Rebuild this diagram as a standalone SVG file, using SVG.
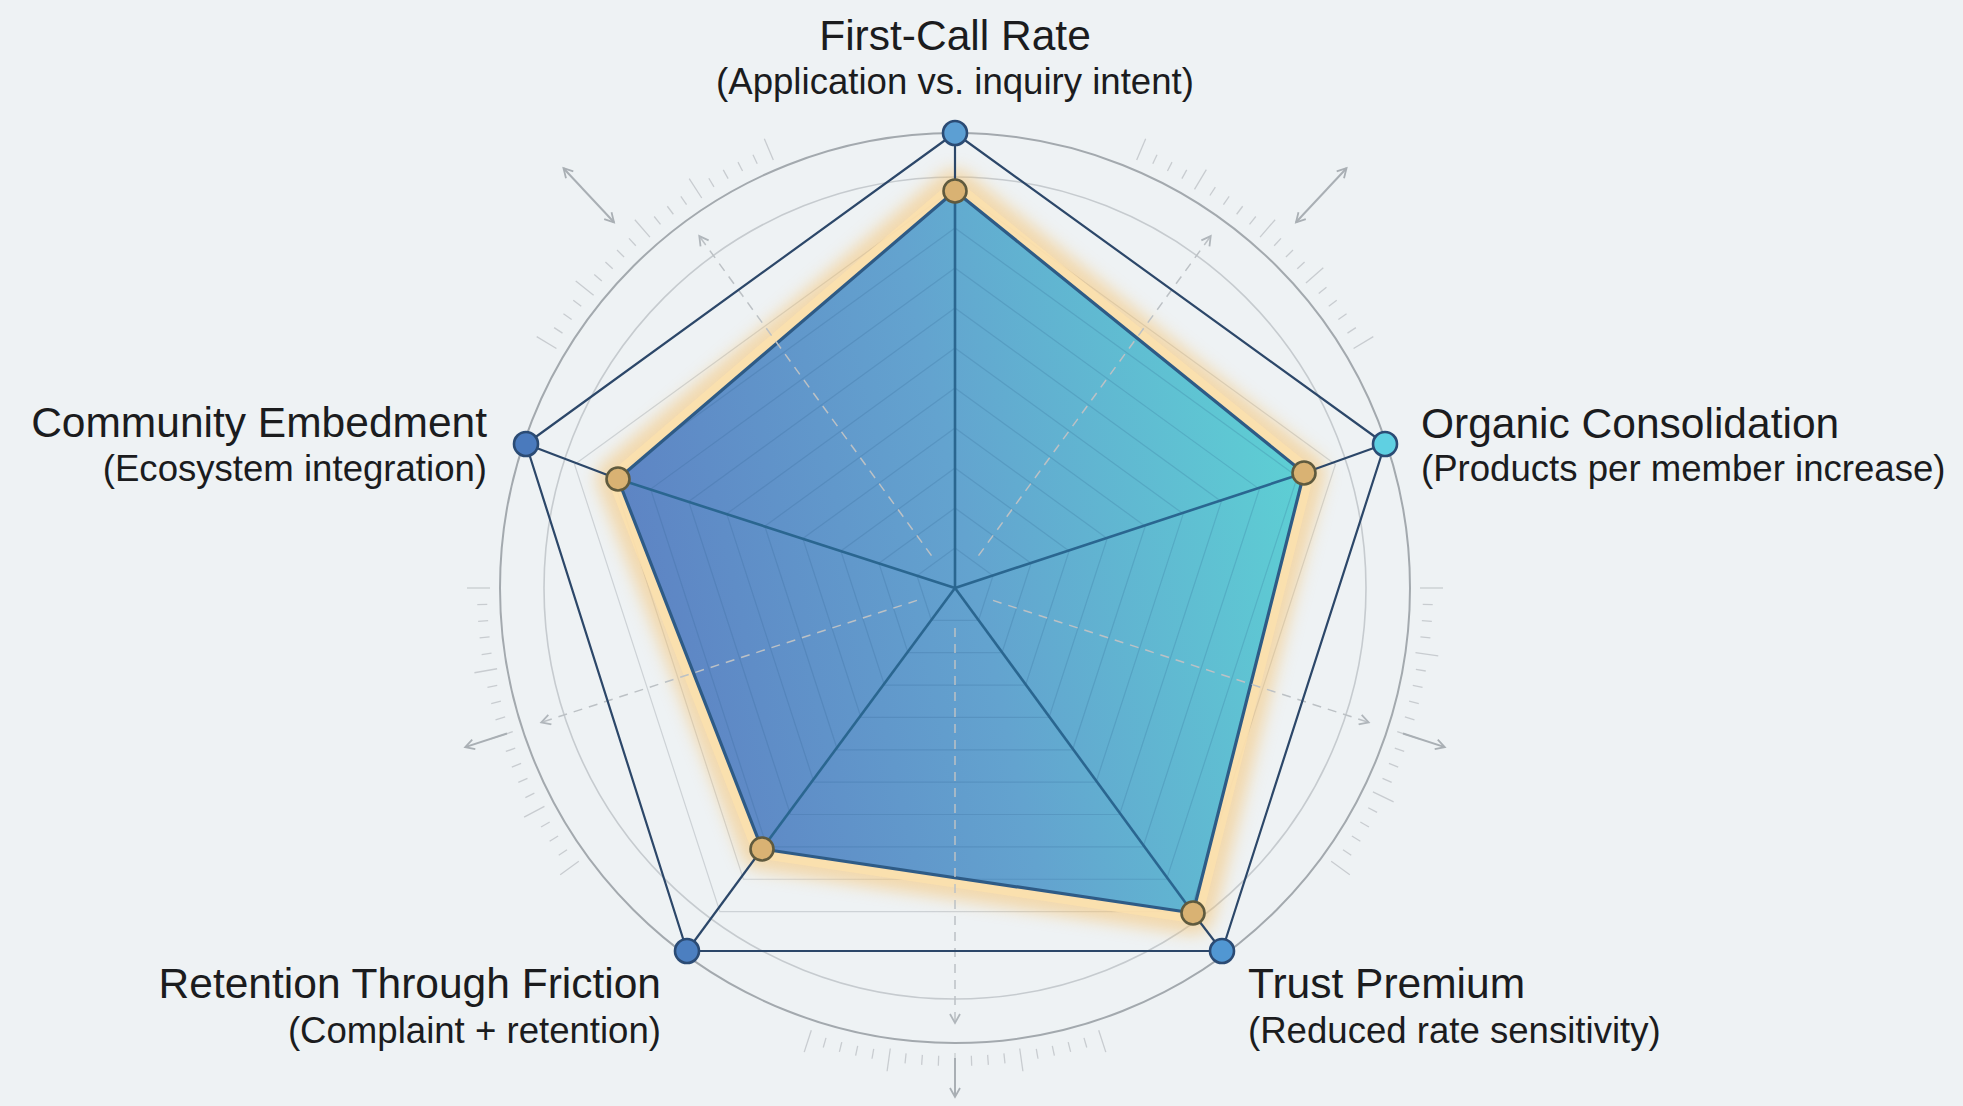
<svg xmlns="http://www.w3.org/2000/svg" xmlns:xlink="http://www.w3.org/1999/xlink" width="1963" height="1106" viewBox="0 0 1963 1106">
<style>
.bg{fill:#eef2f4}
.circ-o{fill:none;stroke:#a3a9ae;stroke-width:2}
.circ-i{fill:none;stroke:#c6cbcf;stroke-width:1.6}
.ring{fill:none;stroke:#cdd2d6;stroke-width:1.2}
.ring-in{fill:none;stroke:#2d5f8c;stroke-opacity:0.2;stroke-width:1.2}
.tick{stroke:#c8ccd0;stroke-width:1.3}
.dash{stroke:#bcc1c5;stroke-width:1.5;stroke-dasharray:9 7;fill:none}
.sarrow{stroke:#a9afb4;stroke-width:2;fill:none}
.edge{stroke:#2c4769;stroke-width:2.2;fill:none}
.spoke{stroke:#2a6690;stroke-width:2.6}
.outer{stroke:#2b4b74;stroke-width:2.6}
.data{fill:#d9b273;stroke:#5f5a3e;stroke-width:2.6}
.t1{font-family:"Liberation Sans",Arial,sans-serif;font-size:42.5px;fill:#1b1c1e}
.t2{font-family:"Liberation Sans",Arial,sans-serif;font-size:36.6px;fill:#1b1c1e}
</style>
<defs>
<linearGradient id="fillg" gradientUnits="userSpaceOnUse" x1="618" y1="600" x2="1304" y2="450">
<stop offset="0" stop-color="#5d82c3"/>
<stop offset="0.5" stop-color="#63a3cf"/>
<stop offset="1" stop-color="#5dd0d4"/>
</linearGradient>
<filter id="glow" x="-20%" y="-20%" width="140%" height="140%">
<feGaussianBlur stdDeviation="8"/>
</filter>
<clipPath id="dataclip">
<polygon points="955,191 1304,473 1193,913 762,849 618,479"/>
</clipPath>
<marker id="chev" viewBox="0 0 12 12" refX="10" refY="6" markerWidth="12" markerHeight="12" markerUnits="userSpaceOnUse" orient="auto-start-reverse">
<path d="M1,1 L10,6 L1,11" fill="none" stroke="#a9afb4" stroke-width="1.8"/>
</marker>
<marker id="chevd" viewBox="0 0 12 12" refX="10" refY="6" markerWidth="12" markerHeight="12" markerUnits="userSpaceOnUse" orient="auto">
<path d="M1,1 L10,6 L1,11" fill="none" stroke="#b0b6bb" stroke-width="1.8"/>
</marker>
<line id="tk" x1="468" y1="0" x2="478" y2="0"/>
<line id="tkL" x1="465" y1="0" x2="488" y2="0"/>
<g id="rings">
<polygon points="0,-40 38.04,-12.36 23.51,32.36 -23.51,32.36 -38.04,-12.36"/>
<polygon points="0,-80 76.09,-24.72 47.02,64.72 -47.02,64.72 -76.09,-24.72"/>
<polygon points="0,-120 114.13,-37.08 70.54,97.08 -70.54,97.08 -114.13,-37.08"/>
<polygon points="0,-160 152.18,-49.44 94.05,129.44 -94.05,129.44 -152.18,-49.44"/>
<polygon points="0,-200 190.22,-61.8 117.56,161.8 -117.56,161.8 -190.22,-61.8"/>
<polygon points="0,-240 228.26,-74.16 141.07,194.16 -141.07,194.16 -228.26,-74.16"/>
<polygon points="0,-280 266.31,-86.52 164.58,226.52 -164.58,226.52 -266.31,-86.52"/>
<polygon points="0,-320 304.35,-98.88 188.1,258.88 -188.1,258.88 -304.35,-98.88"/>
<polygon points="0,-360 342.4,-111.24 211.61,291.24 -211.61,291.24 -342.4,-111.24"/>
<polygon points="0,-400 380.44,-123.6 235.12,323.6 -235.12,323.6 -380.44,-123.6"/>
</g>
</defs>

<rect class="bg" x="0" y="0" width="1963" height="1106"/>

<g id="grid">
<circle class="circ-o" cx="955" cy="588" r="455"/>
<circle class="circ-i" cx="955" cy="588" r="411"/>
<use href="#rings" class="ring" transform="translate(955 588)"/>
</g>

<g id="ticks" class="tick" transform="translate(955 588)">
<use href="#tkL" transform="rotate(72)"/><use href="#tk" transform="rotate(74)"/><use href="#tk" transform="rotate(76)"/><use href="#tk" transform="rotate(78)"/><use href="#tk" transform="rotate(80)"/>
<use href="#tkL" transform="rotate(82)"/><use href="#tk" transform="rotate(84)"/><use href="#tk" transform="rotate(86)"/><use href="#tk" transform="rotate(88)"/><use href="#tkL" transform="rotate(90)"/>
<use href="#tk" transform="rotate(92)"/><use href="#tk" transform="rotate(94)"/><use href="#tk" transform="rotate(96)"/><use href="#tkL" transform="rotate(98)"/><use href="#tk" transform="rotate(100)"/>
<use href="#tk" transform="rotate(102)"/><use href="#tk" transform="rotate(104)"/><use href="#tk" transform="rotate(106)"/><use href="#tkL" transform="rotate(108)"/>
<use href="#tkL" transform="rotate(144)"/><use href="#tk" transform="rotate(146)"/><use href="#tk" transform="rotate(148)"/><use href="#tk" transform="rotate(150)"/><use href="#tkL" transform="rotate(152)"/>
<use href="#tk" transform="rotate(154)"/><use href="#tk" transform="rotate(156)"/><use href="#tk" transform="rotate(158)"/><use href="#tk" transform="rotate(160)"/><use href="#tkL" transform="rotate(162)"/>
<use href="#tk" transform="rotate(164)"/><use href="#tk" transform="rotate(166)"/><use href="#tk" transform="rotate(168)"/><use href="#tkL" transform="rotate(170)"/><use href="#tk" transform="rotate(172)"/>
<use href="#tk" transform="rotate(174)"/><use href="#tk" transform="rotate(176)"/><use href="#tk" transform="rotate(178)"/><use href="#tkL" transform="rotate(180)"/>
<use href="#tkL" transform="rotate(0)"/><use href="#tk" transform="rotate(2)"/><use href="#tk" transform="rotate(4)"/><use href="#tk" transform="rotate(6)"/><use href="#tkL" transform="rotate(8)"/>
<use href="#tk" transform="rotate(10)"/><use href="#tk" transform="rotate(12)"/><use href="#tk" transform="rotate(14)"/><use href="#tk" transform="rotate(16)"/><use href="#tkL" transform="rotate(18)"/>
<use href="#tk" transform="rotate(20)"/><use href="#tk" transform="rotate(22)"/><use href="#tk" transform="rotate(24)"/><use href="#tkL" transform="rotate(26)"/><use href="#tk" transform="rotate(28)"/>
<use href="#tk" transform="rotate(30)"/><use href="#tk" transform="rotate(32)"/><use href="#tk" transform="rotate(34)"/><use href="#tkL" transform="rotate(36)"/>
<use href="#tkL" transform="rotate(211)"/><use href="#tk" transform="rotate(213)"/><use href="#tk" transform="rotate(215)"/><use href="#tk" transform="rotate(217)"/><use href="#tkL" transform="rotate(219)"/>
<use href="#tk" transform="rotate(221)"/><use href="#tk" transform="rotate(223)"/><use href="#tk" transform="rotate(225)"/><use href="#tk" transform="rotate(227)"/><use href="#tkL" transform="rotate(229)"/>
<use href="#tk" transform="rotate(231)"/><use href="#tk" transform="rotate(233)"/><use href="#tk" transform="rotate(235)"/><use href="#tkL" transform="rotate(237)"/><use href="#tk" transform="rotate(239)"/>
<use href="#tk" transform="rotate(241)"/><use href="#tk" transform="rotate(243)"/><use href="#tk" transform="rotate(245)"/><use href="#tkL" transform="rotate(247)"/>
<use href="#tkL" transform="rotate(293)"/><use href="#tk" transform="rotate(295)"/><use href="#tk" transform="rotate(297)"/><use href="#tk" transform="rotate(299)"/><use href="#tkL" transform="rotate(301)"/>
<use href="#tk" transform="rotate(303)"/><use href="#tk" transform="rotate(305)"/><use href="#tk" transform="rotate(307)"/><use href="#tk" transform="rotate(309)"/><use href="#tkL" transform="rotate(311)"/>
<use href="#tk" transform="rotate(313)"/><use href="#tk" transform="rotate(315)"/><use href="#tk" transform="rotate(317)"/><use href="#tkL" transform="rotate(319)"/><use href="#tk" transform="rotate(321)"/>
<use href="#tk" transform="rotate(323)"/><use href="#tk" transform="rotate(325)"/><use href="#tk" transform="rotate(327)"/><use href="#tkL" transform="rotate(329)"/>
</g>

<g id="outer-arrows" class="sarrow">
<line x1="614" y1="222.3" x2="563.5" y2="168.2" marker-start="url(#chev)" marker-end="url(#chev)"/>
<line x1="1296" y1="222.3" x2="1346.5" y2="168.2" marker-start="url(#chev)" marker-end="url(#chev)"/>
<line x1="507" y1="733.5" x2="465.2" y2="747.1" marker-end="url(#chev)"/>
<line x1="1403" y1="733.5" x2="1444.8" y2="747.1" marker-end="url(#chev)"/>
<line x1="955" y1="1058" x2="955" y2="1097" marker-end="url(#chev)"/>
</g>

<g id="data-area">
<polygon points="955,191 1304,473 1193,913 762,849 618,479" fill="none" stroke="#f6c067" stroke-width="44" stroke-linejoin="round" opacity="0.5" filter="url(#glow)"/>
<polygon points="955,191 1304,473 1193,913 762,849 618,479" fill="none" stroke="#fbe0ae" stroke-width="20" stroke-linejoin="round" opacity="0.85"/>
<polygon points="955,191 1304,473 1193,913 762,849 618,479" fill="url(#fillg)"/>
<g clip-path="url(#dataclip)">
<use href="#rings" class="ring-in" transform="translate(955 588)"/>
</g>
<polygon points="955,191 1304,473 1193,913 762,849 618,479" fill="none" stroke="#2e5b86" stroke-width="3.2" stroke-linejoin="round"/>
</g>

<g id="axes-dashed" class="dash">
<line x1="955" y1="628" x2="955" y2="1023" marker-end="url(#chevd)"/>
<line x1="993" y1="600.4" x2="1368.7" y2="722.4" marker-end="url(#chevd)"/>
<line x1="978.5" y1="555.6" x2="1210.7" y2="236.1" marker-end="url(#chevd)"/>
<line x1="931.5" y1="555.6" x2="699.3" y2="236.1" marker-end="url(#chevd)"/>
<line x1="917" y1="600.4" x2="541.3" y2="722.4" marker-end="url(#chevd)"/>
</g>

<g id="connectors">
<polygon class="edge" points="955,133 1385,444 1222,951 687,951 526,444" stroke-linejoin="round"/>
<line class="edge" x1="955" y1="133" x2="955" y2="191"/>
<line class="edge" x1="1385" y1="444" x2="1304" y2="473"/>
<line class="edge" x1="1222" y1="951" x2="1193" y2="913"/>
<line class="edge" x1="687" y1="951" x2="762" y2="849"/>
<line class="edge" x1="526" y1="444" x2="618" y2="479"/>
<line class="spoke" x1="955" y1="588" x2="955" y2="191"/>
<line class="spoke" x1="955" y1="588" x2="1304" y2="473"/>
<line class="spoke" x1="955" y1="588" x2="1193" y2="913"/>
<line class="spoke" x1="955" y1="588" x2="762" y2="849"/>
<line class="spoke" x1="955" y1="588" x2="618" y2="479"/>
</g>

<g id="node-first-call">
<circle class="outer" cx="955" cy="133" r="12" fill="#5c9fd3"/>
<circle class="data" cx="955" cy="191" r="11.5"/>
<text class="t1" x="955" y="50" text-anchor="middle">First-Call Rate</text>
<text class="t2" x="955" y="94" text-anchor="middle">(Application vs. inquiry intent)</text>
</g>

<g id="node-organic">
<circle class="outer" cx="1385" cy="444" r="12" fill="#5fd0e2"/>
<circle class="data" cx="1304" cy="473" r="11.5"/>
<text class="t1" x="1421" y="438">Organic Consolidation</text>
<text class="t2" x="1421" y="481">(Products per member increase)</text>
</g>

<g id="node-trust">
<circle class="outer" cx="1222" cy="951" r="12" fill="#5197d2"/>
<circle class="data" cx="1193" cy="913" r="11.5"/>
<text class="t1" x="1248" y="998">Trust Premium</text>
<text class="t2" x="1248" y="1043">(Reduced rate sensitivity)</text>
</g>

<g id="node-retention">
<circle class="outer" cx="687" cy="951" r="12" fill="#4c7fc0"/>
<circle class="data" cx="762" cy="849" r="11.5"/>
<text class="t1" x="661" y="998" text-anchor="end">Retention Through Friction</text>
<text class="t2" x="661" y="1043" text-anchor="end">(Complaint + retention)</text>
</g>

<g id="node-community">
<circle class="outer" cx="526" cy="444" r="12" fill="#4a7abd"/>
<circle class="data" cx="618" cy="479" r="11.5"/>
<text class="t1" x="487" y="437" text-anchor="end">Community Embedment</text>
<text class="t2" x="487" y="481" text-anchor="end">(Ecosystem integration)</text>
</g>
</svg>
